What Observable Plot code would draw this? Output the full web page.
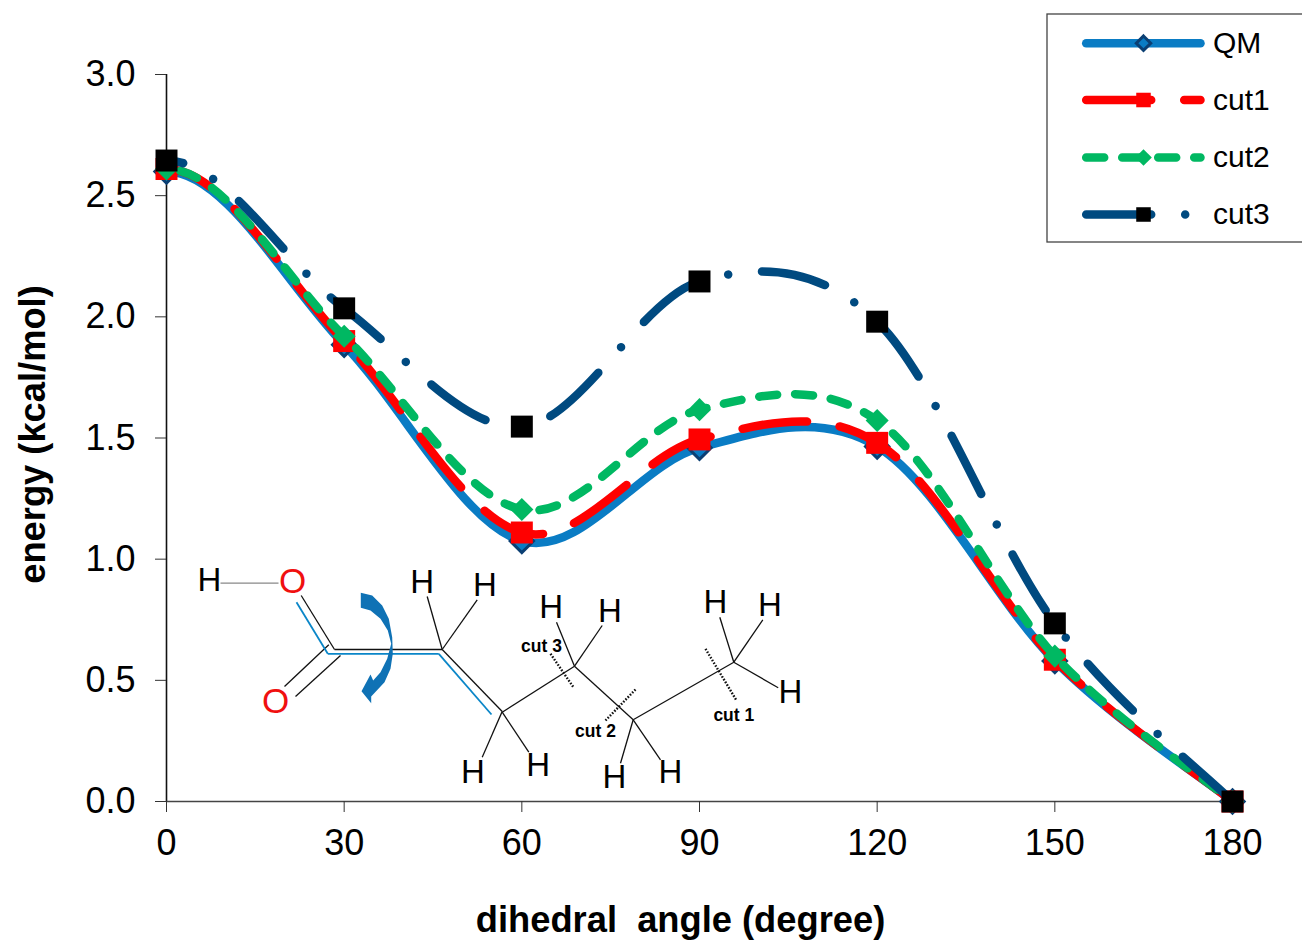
<!DOCTYPE html>
<html>
<head>
<meta charset="utf-8">
<style>html,body{margin:0;padding:0;background:#fff}svg{display:block}</style>
<script src="https://cdn.jsdelivr.net/npm/d3@7"></script>
<script src="https://cdn.jsdelivr.net/npm/@observablehq/plot@0.6"></script>
</head>
<body>
<div id="chart"></div>
<script>
// chart values
const angles = [0, 30, 60, 90, 120, 150, 180];
const qm   = [2.60, 1.885, 1.075, 1.46, 1.465, 0.58, 0];
const cut1 = [2.61, 1.90, 1.11, 1.494, 1.48, 0.585, 0];
const cut2 = [2.61, 1.92, 1.205, 1.617, 1.572, 0.60, 0];
const cut3 = [2.645, 2.035, 1.547, 2.146, 1.98, 0.735, 0];
const xTicks = [0, 30, 60, 90, 120, 150, 180];
const yTicks = [0, 0.5, 1, 1.5, 2, 2.5, 3];
const xTitle = "dihedral  angle (degree)";
const yTitle = "energy (kcal/mol)";

// picture-space helpers for the annotation sketch (legend, molecule)
const X = px => (px - 166) * 180 / 1066;
const Y = py => (801 - py) * 3 / 727;

// smoothed line, as a spreadsheet draws it: flat where it leaves the first point
const smoothFlatStart = context => ({
  areaStart() {}, areaEnd() {},
  lineStart() { this.p = []; },
  point(x, y) { this.p.push([+x, +y]); },
  lineEnd() {
    const p = this.p, n = p.length;
    context.moveTo(p[0][0], p[0][1]);
    for (let i = 0; i < n - 1; i++) {
      const a = i ? p[i - 1] : [2 * p[0][0] - p[1][0], p[1][1]];
      const b = p[i], c = p[i + 1], d = i + 2 < n ? p[i + 2] : c;
      context.bezierCurveTo(b[0] + (c[0] - a[0]) / 6, b[1] + (c[1] - a[1]) / 6,
                            c[0] - (d[0] - b[0]) / 6, c[1] - (d[1] - b[1]) / 6, c[0], c[1]);
    }
  }
});

const blue = "#0a7cc4", red = "#ff0000", green = "#00b862", navy = "#004a80";
const series = [
  {name: "QM",   values: qm,   color: blue,  dash: null,       offset: 0,  mark: "diamond2", mfill: blue, mstroke: "#0b3f73", r: 10.5, lr: 6.5, lsw: 3},
  {name: "cut1", values: cut1, color: red,   dash: "65,33",    offset: 17, mark: "square", mfill: red, mstroke: "none", r: 12.4, lr: 8.2, lsw: 0},
  {name: "cut2", values: cut2, color: green, dash: "18,18",    offset: 22, mark: "diamond2", mfill: green, mstroke: "none", r: 10.4, lr: 7.5, lsw: 0},
  {name: "cut3", values: cut3, color: navy,  dash: "65,34,0.01,34", offset: 48, mark: "square", mfill: "#000", mstroke: "none", r: 12.4, lr: 8.2, lsw: 0}
];
const legendY = [42.7, 99.5, 157, 214];

// molecule sketch
const hydrogens = [[209,580],[421.7,581.7],[484.3,585],[472.3,771.7],[537.7,765],[550.7,607.3],[609.3,610.7],[614,776.7],[670,772.3],[715,602.3],[769.3,605],[790,692.3]];
const oxygens = [[292,581],[275,701.7]];
const bondsBlack = [
  [300.7,595,334,649],[334,649,441.7,649],[328.3,644.3,284,686],[340,655,295,696],
  [441.7,649,426.7,596],[441.7,649,476.7,599.3],[441.7,649,501.7,711],
  [501.7,711,481.7,756.7],[501.7,711.7,528.3,751.7],[501.7,711.7,574,665.7],
  [574,665.7,556,621.7],[574,665.7,601.7,625],[574,665.7,632.7,719.3],
  [632.7,719.3,620,762.7],[632.7,719.3,660,759.3],[632.7,719.3,733.3,661.7],
  [733.3,661.7,719.3,616.7],[733.3,661.7,762.3,619.3],[733.3,661.7,777.7,687.3]
];
const bondsBlue = [[296,601.7,327.3,653.3],[327.3,653.3,438.3,653.3],[438.3,653.3,491,714]];
const bondsGray = [[220,582.7,278,582.7]];
const cutLines = [[550,653.3,573.3,687.3],[635,689,605,720],[705,648.3,736,700]];
const cutLabels = [["cut 3",541,646],["cut 2",595,731],["cut 1",733.3,715]];
const arrowOutline = [[360.3,592.3],[371.7,595],[381.7,605],[388.3,618.3],[391.7,636.7],[392.3,653.3],[390,668.3],[384,681.7],[370.7,696],[370.7,702.7],[361,690.7],[370,674],[372.7,680],[380,671.7],[386.7,658.3],[390.7,643.3],[387.3,630],[380,618.3],[370,610],[360.3,607.3]];

const F = "Liberation Sans, Arial, sans-serif";
const marks = [
  Plot.ruleX([0], {y1: 0, y2: 3, stroke: "#111", strokeWidth: 1.6}),
  Plot.ruleY([0], {x1: 0, x2: 180, stroke: "#444", strokeWidth: 1.6}),
  Plot.axisX({ticks: xTicks, tickSize: 11, tickPadding: 17, fontSize: 36, fontFamily: F, label: null, stroke: "#333", fill: "#000"}),
  Plot.axisY({ticks: yTicks, tickSize: 11, tickPadding: 20, fontSize: 36, fontFamily: F, label: null, tickFormat: d3.format(".1f"), stroke: "#333", fill: "#000"}),
  Plot.text([xTitle], {x: X(680), y: Y(920), text: d => d, fontFamily: F, fontWeight: "bold", fontSize: 36.3, fill: "#000"}),
  Plot.text([yTitle], {x: X(33), y: Y(434), text: d => d, rotate: -90, fontFamily: F, fontWeight: "bold", fontSize: 36.3, fill: "#000"}),
  // molecule
  Plot.link(bondsGray, {x1: d => X(d[0]), y1: d => Y(d[1]), x2: d => X(d[2]), y2: d => Y(d[3]), stroke: "#888", strokeWidth: 1.3}),
  Plot.link(bondsBlack, {x1: d => X(d[0]), y1: d => Y(d[1]), x2: d => X(d[2]), y2: d => Y(d[3]), stroke: "#111", strokeWidth: 1.3}),
  Plot.link(bondsBlue, {x1: d => X(d[0]), y1: d => Y(d[1]), x2: d => X(d[2]), y2: d => Y(d[3]), stroke: "#0a86c8", strokeWidth: 1.8}),
  Plot.link(cutLines, {x1: d => X(d[0]), y1: d => Y(d[1]), x2: d => X(d[2]), y2: d => Y(d[3]), stroke: "#111", strokeWidth: 2.4, strokeDasharray: "1.6,1.6"}),
  Plot.line(arrowOutline, {x: d => X(d[0]), y: d => Y(d[1]), fill: "#0f72b5", stroke: "none", curve: "linear-closed"}),
  Plot.text(hydrogens, {x: d => X(d[0]), y: d => Y(d[1]), text: () => "H", fontFamily: F, fontSize: 33, fill: "#000"}),
  Plot.text(oxygens, {x: d => X(d[0]), y: d => Y(d[1]), text: () => "O", fontFamily: F, fontSize: 35, fill: "#f01010"}),
  Plot.text(cutLabels, {x: d => X(d[1]), y: d => Y(d[2]), text: d => d[0], fontFamily: F, fontWeight: "bold", fontSize: 17.5, fill: "#000"})
];

// series
for (const s of series) {
  const rows = angles.map((a, i) => ({a, v: s.values[i]}));
  marks.push(Plot.line(rows, {x: "a", y: "v", curve: smoothFlatStart, stroke: s.color, strokeWidth: 8.5, strokeLinecap: "round", strokeLinejoin: "round", strokeDasharray: s.dash, strokeDashoffset: s.offset}));
  marks.push(Plot.dot(rows, {x: "a", y: "v", symbol: s.mark, r: s.r, fill: s.mfill, stroke: s.mstroke, strokeWidth: s.lsw}));
}

// legend
marks.push(Plot.rect([0], {x1: X(1047), x2: X(1340), y1: Y(14), y2: Y(242), fill: "#fff", stroke: "#444", strokeWidth: 1.3}));
series.forEach((s, i) => {
  const ly = legendY[i];
  marks.push(Plot.line([1085.7, 1200], {x: d => X(d), y: () => Y(ly), stroke: s.color, strokeWidth: 8.5, strokeLinecap: "round", strokeDasharray: s.dash}));
  marks.push(Plot.dot([0], {x: () => X(1143), y: () => Y(ly), symbol: s.mark, r: s.lr, fill: s.mfill, stroke: s.mstroke, strokeWidth: s.lsw}));
  marks.push(Plot.text([s.name], {x: () => X(1212.5), y: () => Y(ly), text: d => d, textAnchor: "start", fontFamily: F, fontSize: 30, fill: "#000"}));
});

const plot = Plot.plot({
  width: 1302, height: 941,
  marginLeft: 166, marginRight: 70, marginTop: 74, marginBottom: 140,
  x: {domain: [0, 180]},
  y: {domain: [0, 3]},
  style: {background: "#fff", overflow: "hidden"},
  marks
});
document.getElementById("chart").appendChild(plot);
</script>
</body>
</html>
